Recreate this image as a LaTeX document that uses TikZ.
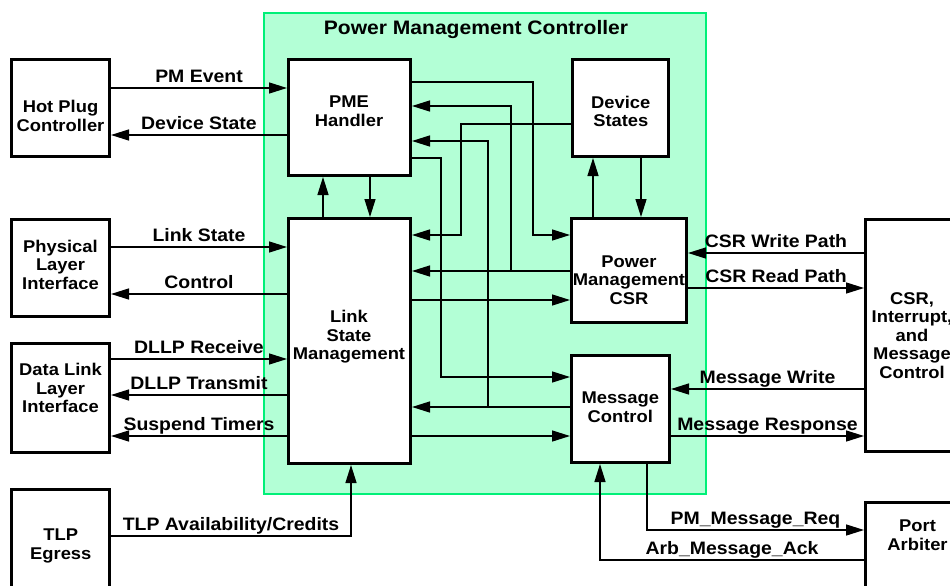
\documentclass[tikz,border=0pt]{standalone}
\usepackage{fontspec}
\setmainfont[FakeStretch=1.08]{Liberation Sans}
\usetikzlibrary{arrows.meta}
\definecolor{pmfill}{RGB}{179,255,214}
\definecolor{pmedge}{RGB}{0,240,120}
\tikzset{
  blk/.style={draw, line width=3pt, fill=white, inner sep=0pt, rectangle},
  btxt/.style={font=\fontsize{17}{18.5}\selectfont\bfseries, align=center, inner sep=0pt},
  conn/.style={line width=1.4pt, -{Triangle[length=18pt,width=11pt]}},
  wire/.style={line width=1.4pt},
  lab/.style={font=\fontsize{18}{20}\selectfont\bfseries, inner sep=0pt, text height=12.8pt, text depth=0pt, above=5pt},
}
\begin{document}
\begin{tikzpicture}[x=1pt,y=-1pt]
\useasboundingbox (0,0) rectangle (950,586);
\clip (0,0) rectangle (950,586);
% controller area
\node[draw=pmedge, fill=pmfill, line width=1.6pt, inner sep=0pt, minimum width=442pt, minimum height=481pt] (pmc) at (485,253.5) {};
\node[font=\fontsize{19.5}{22}\selectfont\bfseries, inner sep=0pt] (title) at (476,30) {Power Management Controller};
% boxes
\node[blk, minimum width=98pt, minimum height=97pt] (hp) at (60.5,108) {};
\node[blk, minimum width=98pt, minimum height=97pt] (phy) at (60.5,268) {};
\node[blk, minimum width=98pt, minimum height=109pt] (dll) at (60.5,398) {};
\node[blk, minimum width=98pt, minimum height=130pt] (tlp) at (60.5,554) {};
\node[blk, minimum width=122pt, minimum height=116pt] (pme) at (349.5,117.5) {};
\node[blk, minimum width=122pt, minimum height=245pt] (lsm) at (349.5,341) {};
\node[blk, minimum width=96pt, minimum height=97pt] (ds) at (620.5,108) {};
\node[blk, minimum width=115pt, minimum height=104pt] (csr) at (629,270.5) {};
\node[blk, minimum width=98pt, minimum height=107pt] (mc) at (620.5,409) {};
\node[blk, minimum width=93pt, minimum height=232pt] (cim) at (912,335.5) {};
\node[blk, minimum width=103pt, minimum height=136pt] (pa) at (917,570) {};
% box texts
\node[btxt] (hp-t) at (60.5,116) {Hot Plug\\Controller};
\node[btxt] (phy-t) at (60.5,264.5) {Physical\\Layer\\Interface};
\node[btxt] (dll-t) at (60.5,388) {Data Link\\Layer\\Interface};
\node[btxt] (tlp-t) at (60.8,546) {TLP\\Egress};
\node[btxt] (pme-t) at (349,111) {PME\\Handler};
\node[btxt] (lsm-t) at (349,337) {Link\\State\\Management};
\node[btxt] (ds-t) at (620.8,111.3) {Device\\States};
\node[btxt] (csr-t) at (629,280) {Power\\Management\\CSR};
\node[btxt] (mc-t) at (620.3,407) {Message\\Control};
\node[btxt] (cim-t) at (912,335.5) {CSR,\\Interrupt,\\and\\Message\\Control};
\node[btxt] (pa-t) at (917.5,535) {Port\\Arbiter};
% left side connectors
\draw[conn] (hp.east |- 0,88) -- node[lab]{PM Event} (pme.west |- 0,88);
\draw[conn] (pme.west |- 0,135) -- node[lab]{Device State} (hp.east |- 0,135);
\draw[conn] (phy.east |- 0,247) -- node[lab]{Link State} (lsm.west |- 0,247);
\draw[conn] (lsm.west |- 0,294) -- node[lab]{Control} (phy.east |- 0,294);
\draw[conn] (dll.east |- 0,359) -- node[lab]{DLLP Receive} (lsm.west |- 0,359);
\draw[conn] (lsm.west |- 0,395) -- node[lab]{DLLP Transmit} (dll.east |- 0,395);
\draw[conn] (lsm.west |- 0,436) -- node[lab]{Suspend Timers} (dll.east |- 0,436);
\draw[conn] (tlp.east |- 0,536) -| node[lab, pos=0.25]{TLP Availability/Credits} (351,0 |- lsm.south);
% PME <-> LSM
\draw[conn] (323,0 |- lsm.north) -- (323,0 |- pme.south);
\draw[conn] (370,0 |- pme.south) -- (370,0 |- lsm.north);
% internal routing
\draw[conn] (pme.east |- 0,82) -| (533,235) -- (csr.west |- 0,235);
\draw[conn] (csr.west |- 0,271) -- (lsm.east |- 0,271);
\coordinate (j1) at (511,271);
\draw[conn] (j1) |- (pme.east |- 0,106);
\draw[conn] (ds.west |- 0,124) -| (461,235) -- (lsm.east |- 0,235);
\draw[conn] (mc.west |- 0,407) -- (lsm.east |- 0,407);
\coordinate (j2) at (488,407);
\draw[conn] (j2) |- (pme.east |- 0,141);
\draw[conn] (pme.east |- 0,158) -| (441,377) -- (mc.west |- 0,377);
\draw[conn] (lsm.east |- 0,300) -- (csr.west |- 0,300);
\draw[conn] (lsm.east |- 0,436) -- (mc.west |- 0,436);
% Device states <-> CSR
\draw[conn] (593,0 |- csr.north) -- (593,0 |- ds.south);
\draw[conn] (641,0 |- ds.south) -- (641,0 |- csr.north);
% right side
\draw[conn] (cim.west |- 0,253) -- node[lab]{CSR Write Path} (csr.east |- 0,253);
\draw[conn] (csr.east |- 0,288) -- node[lab]{CSR Read Path} (cim.west |- 0,288);
\draw[conn] (cim.west |- 0,389) -- node[lab]{Message Write} (mc.east |- 0,389);
\draw[conn] (mc.east |- 0,436) -- node[lab]{Message Response} (cim.west |- 0,436);
% bottom
\draw[conn] (647,0 |- mc.south) |- node[lab, pos=0.75]{PM\_Message\_Req} (pa.west |- 0,530);
\draw[conn] (pa.west |- 0,560) -| node[lab, pos=0.25]{Arb\_Message\_Ack} (600,0 |- mc.south);
\end{tikzpicture}
\end{document}
